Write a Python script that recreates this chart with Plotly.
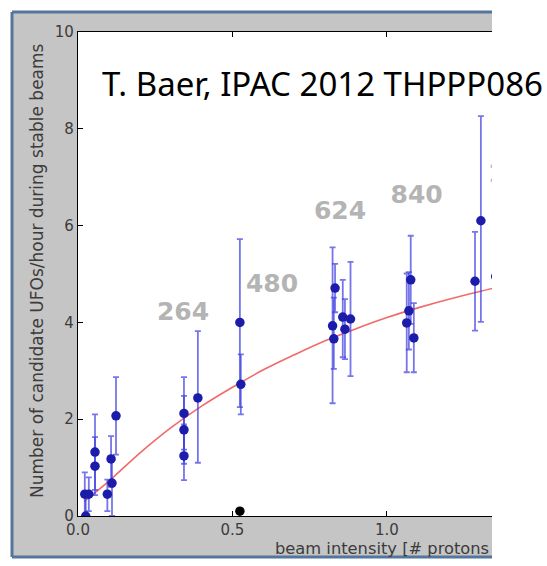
import plotly.graph_objects as go

# ---- data ----
x_pts = [0.022, 0.035, 0.025, 0.055, 0.055, 0.095, 0.107, 0.110, 0.123,
         0.343, 0.343, 0.343, 0.388, 0.524, 0.527,
         0.824, 0.828, 0.832, 0.857, 0.864, 0.882,
         1.064, 1.071, 1.077, 1.087,
         1.285, 1.304, 1.352]
y_pts = [0.45, 0.45, 0.0, 1.32, 1.03, 0.45, 1.18, 0.68, 2.07,
         2.12, 1.78, 1.24, 2.44, 4.0, 2.72,
         3.93, 3.66, 4.71, 4.11, 3.86, 4.07,
         3.99, 4.24, 4.88, 3.68,
         4.85, 6.10, 4.95]
err_up = [0.45, 0.35, 0.4, 0.78, 0.6, 0.3, 0.47, 0.5, 0.8,
          0.75, 0.7, 0.65, 1.38, 1.72, 0.62,
          1.62, 0.85, 0.5, 0.77, 0.62, 1.18,
          1.02, 0.8, 0.91, 0.72,
          1.02, 2.16, 1.0]
err_dn = [0.45, 0.35, 0.0, 0.78, 0.6, 0.35, 0.58, 0.68, 0.8,
          0.75, 0.7, 0.5, 1.34, 1.75, 0.62,
          1.60, 0.62, 0.5, 0.83, 0.62, 1.18,
          1.02, 0.8, 0.91, 0.71,
          1.02, 2.09, 1.0]

fit_x = [0.02, 0.1, 0.2, 0.3, 0.4, 0.5, 0.6, 0.7, 0.8, 0.9, 1.0, 1.1, 1.2, 1.3, 1.4]
fit_y = [0.30, 0.72, 1.30, 1.82, 2.27, 2.66, 3.02, 3.33, 3.62, 3.87, 4.10, 4.30, 4.48, 4.64, 4.79]

zero_x = [0.524]
zero_y = [0.10]

label_text = ["264", "480", "624", "840", "1380"]
label_x = [0.340, 0.628, 0.848, 1.096, 1.327]
label_y = [4.17, 4.75, 6.26, 6.59, 7.02]
label_anchor = ["middle center", "middle center", "middle center", "middle center", "middle right"]

x_ticks = [0.0, 0.5, 1.0]
x_ticktext = ["0.0", "0.5", "1.0"]
y_ticks = [0, 2, 4, 6, 8, 10]
y_ticktext = ["0", "2", "4", "6", "8", "10"]

title_text = "T. Baer, IPAC 2012 THPPP086"
y_title = "Number of candidate UFOs/hour during stable beams"
x_title = "beam intensity [# protons"

# ---- geometry (pixels) ----
W, H = 547, 566
L, R, T, B = 78, 492, 32, 516
pw, ph = R - L, B - T


def px(xp):
    return (xp - L) / pw


def py(yp):
    return (B - yp) / ph


fig = go.Figure()

fig.add_trace(go.Scatter(
    x=fit_x, y=fit_y, mode="lines", line=dict(color="rgba(240,90,90,0.9)", width=1.6, shape="spline"),
    hoverinfo="skip", cliponaxis=True))

fig.add_trace(go.Scatter(
    x=x_pts, y=y_pts, mode="markers",
    marker=dict(color="#1c1caa", size=9.5),
    error_y=dict(type="data", symmetric=False, array=err_up, arrayminus=err_dn,
                 color="rgba(60,60,225,0.7)", thickness=1.8, width=3),
    cliponaxis=True))

fig.add_trace(go.Scatter(
    x=zero_x, y=zero_y, mode="markers", marker=dict(color="black", size=9.5), cliponaxis=True))

fig.add_trace(go.Scatter(
    x=label_x, y=label_y, mode="text", text=label_text,
    textposition=label_anchor,
    textfont=dict(family="DejaVu Sans", size=25, color="#b4b4b4", weight="bold"),
    cliponaxis=True, hoverinfo="skip"))

shapes = [
    # grey figure frame
    dict(type="rect", xref="paper", yref="paper", x0=px(12), x1=px(492), y0=py(557), y1=py(12),
         fillcolor="#c5c5c5", line=dict(width=0), layer="below"),
    # white plot area
    dict(type="rect", xref="paper", yref="paper", x0=0, x1=1, y0=0, y1=1,
         fillcolor="white", line=dict(width=0), layer="below"),
    # blue-grey border lines (left, top, bottom)
    dict(type="line", xref="paper", yref="paper", x0=px(12), x1=px(12), y0=py(557), y1=py(12),
         line=dict(color="#55769c", width=3)),
    dict(type="line", xref="paper", yref="paper", x0=px(12), x1=px(492), y0=py(12), y1=py(12),
         line=dict(color="#55769c", width=3)),
    dict(type="line", xref="paper", yref="paper", x0=px(12), x1=px(492), y0=py(557), y1=py(557),
         line=dict(color="#55769c", width=3)),
]

annotations = [
    dict(xref="paper", yref="paper", x=px(100), y=py(84), xanchor="left", yanchor="middle",
         text=title_text, showarrow=False,
         font=dict(family="Noto Sans", size=33, color="black")),
    dict(xref="paper", yref="paper", x=px(37), y=py(271), xanchor="center", yanchor="middle",
         text=y_title, showarrow=False, textangle=-90,
         font=dict(family="DejaVu Sans", size=17, color="#3c3c3c")),
    dict(xref="paper", yref="paper", x=px(273), y=py(548), xanchor="left", yanchor="middle",
         text=x_title, showarrow=False,
         font=dict(family="DejaVu Sans", size=16.3, color="#3c3c3c")),
]

fig.update_layout(
    width=W, height=H,
    margin=dict(l=L, r=W - R, t=T, b=H - B, pad=0),
    paper_bgcolor="white", plot_bgcolor="white",
    showlegend=False,
    shapes=shapes, annotations=annotations,
    xaxis=dict(range=[0, 1.34], tickvals=x_ticks, ticktext=x_ticktext,
               showgrid=False, zeroline=False, showline=True, linecolor="black", linewidth=1.2,
               mirror="ticks", ticks="inside", ticklen=5, tickcolor="black",
               tickfont=dict(family="DejaVu Sans", size=15, color="#3c3c3c")),
    yaxis=dict(range=[0, 10], tickvals=y_ticks, ticktext=y_ticktext,
               showgrid=False, zeroline=False, showline=True, linecolor="black", linewidth=1.2,
               mirror=False, ticks="inside", ticklen=5, tickcolor="black",
               tickfont=dict(family="DejaVu Sans", size=15, color="#3c3c3c")),
)

fig.write_html("out.html")
